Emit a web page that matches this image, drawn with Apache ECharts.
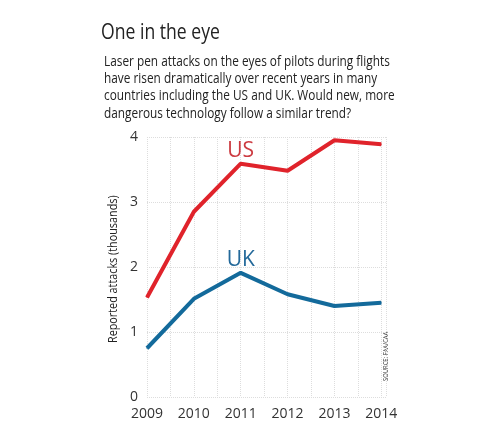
<!DOCTYPE html>
<html><head><meta charset="utf-8">
<script src="https://cdn.jsdelivr.net/npm/echarts@6/dist/echarts.min.js"></script>
<style>html,body{margin:0;padding:0;background:#fff}#c{width:500px;height:444px}</style>
</head><body><div id="c"></div>
<script>
const years = [2009, 2010, 2011, 2012, 2013, 2014];
const usValues = [1.53, 2.85, 3.59, 3.48, 3.95, 3.89];
const ukValues = [0.75, 1.51, 1.91, 1.58, 1.40, 1.45];
const yTicks = [0, 1, 2, 3, 4];
const seriesNames = ['US', 'UK'];
const labelIndex = 2;
const FONT = 'Open Sans';

function mk(vals, name, color, labelColor) {
  return {
    type: 'line', name: name, symbol: 'circle', symbolSize: 1, showSymbol: true, smooth: false,
    lineStyle: { width: 4, color: color }, itemStyle: { color: color },
    data: vals.map((v, i) => {
      const d = { value: [years[i], v] };
      if (i === labelIndex) d.label = { show: true, position: 'top', distance: 2, formatter: name, fontSize: 21, fontFamily: FONT, color: labelColor };
      return d;
    })
  };
}

const chart = echarts.init(document.getElementById('c'), null, { renderer: 'canvas' });
chart.setOption({
  animation: false,
  backgroundColor: '#fff',
  graphic: [
    { type: 'text', x: 101, y: 22, scaleX: 0.8, style: { text: 'One in the eye', font: '22px "' + FONT + '"', fill: '#222' } },
    { type: 'text', x: 104, y: 53, scaleX: 0.845, style: { text: 'Laser pen attacks on the eyes of pilots during flights\nhave risen dramatically over recent years in many\ncountries including the US and UK. Would new, more\ndangerous technology follow a similar trend?', font: '14px "' + FONT + '"', fill: '#222', lineHeight: 17.3 } },
    { type: 'text', x: 106, y: 343, rotation: Math.PI / 2, scaleX: 0.8, style: { text: 'Reported attacks (thousands)', font: '13.5px "' + FONT + '"', fill: '#222' } },
    { type: 'text', x: 382, y: 381, rotation: Math.PI / 2, scaleX: 0.78, style: { text: 'SOURCE: FAA/CAA', font: '7.5px "' + FONT + '"', fill: '#333' } }
  ],
  grid: { left: 147, right: 114, top: 137, bottom: 47, containLabel: false },
  xAxis: {
    type: 'value', min: 2009, max: 2014.1, interval: 0.5,
    axisLine: { show: false }, axisTick: { show: false },
    axisLabel: { fontFamily: FONT, fontSize: 14, color: '#333', margin: 10, showMaxLabel: false,
      formatter: v => (Number.isInteger(v) && years.includes(v)) ? String(v) : '' },
    splitLine: { show: true, lineStyle: { color: '#ddd', type: 'dotted', width: 1 } }
  },
  yAxis: {
    type: 'value', min: yTicks[0], max: yTicks[yTicks.length - 1], interval: 1,
    axisLine: { show: false }, axisTick: { show: false },
    axisLabel: { fontFamily: FONT, fontSize: 14, color: '#333', margin: 9 },
    splitLine: { show: true, lineStyle: { color: '#ddd', type: 'dotted', width: 1 } }
  },
  series: [
    mk(usValues, seriesNames[0], '#e0232b', '#cc3a40'),
    mk(ukValues, seriesNames[1], '#136a9b', '#23699a')
  ]
});
</script></body></html>
